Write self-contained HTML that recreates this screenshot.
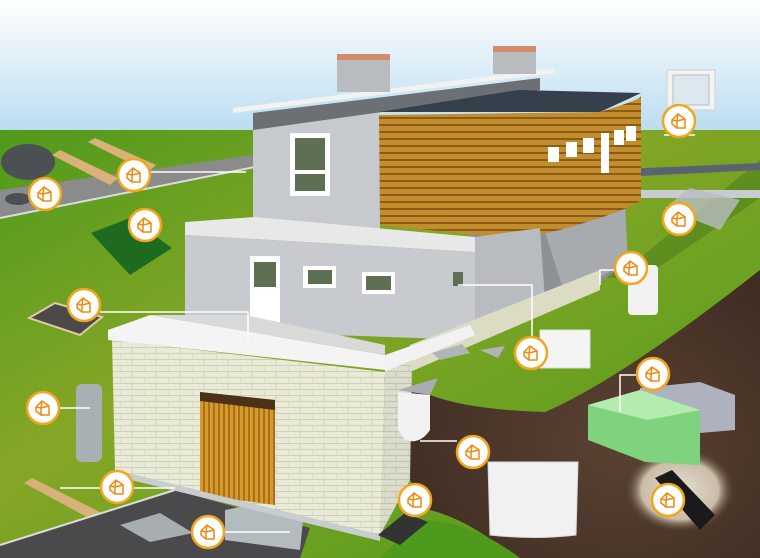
<!DOCTYPE html>
<html><head><meta charset="utf-8"><style>
html,body{margin:0;padding:0;width:760px;height:558px;overflow:hidden;background:#fff}
svg{display:block}
</style></head><body>
<svg width="760" height="558" viewBox="0 0 760 558" xmlns="http://www.w3.org/2000/svg">
<defs>
<linearGradient id="sky" x1="0" y1="0" x2="0" y2="1"><stop offset="0" stop-color="#ffffff"/><stop offset="1" stop-color="#b9dcf0"/></linearGradient>
<linearGradient id="grass" x1="0" y1="0" x2="1" y2="1"><stop offset="0" stop-color="#4f9a1c"/><stop offset="0.4" stop-color="#86a626"/><stop offset="1" stop-color="#4a9a1a"/></linearGradient>
<pattern id="woodl" width="8" height="7" patternUnits="userSpaceOnUse"><rect width="8" height="7" fill="#c38d2e"/><rect y="5" width="8" height="2" fill="#8a5c18"/></pattern>
<pattern id="door" width="5" height="8" patternUnits="userSpaceOnUse"><rect width="5" height="8" fill="#d59a2a"/><rect x="3" width="2" height="8" fill="#a8701a"/></pattern>
<pattern id="brick" width="24" height="12" patternUnits="userSpaceOnUse"><rect width="24" height="12" fill="#e9ead8"/><path d="M0 11.5H24M12 0V6M0 5.5H24M0 6V12" stroke="#cfd0b8" stroke-width="1"/></pattern>
<radialGradient id="soil" cx="0.6" cy="0.6" r="0.7"><stop offset="0" stop-color="#5a4232"/><stop offset="1" stop-color="#3e2c22"/></radialGradient>
<radialGradient id="grav" cx="0.5" cy="0.5" r="0.5"><stop offset="0" stop-color="#e8e0d4"/><stop offset="0.7" stop-color="#c9bca8"/><stop offset="1" stop-color="#5a4232" stop-opacity="0"/></radialGradient>
<g id="ic"><circle r="16" fill="#fff" stroke="#f3a51d" stroke-width="2.5"/><path d="M-7 -1 L-1 -7 L6 -2 L6 7 L-2 7 L-7 3 Z M-1 -7 L-2 0 L-2 7 M-7 -1 L-2 0 L6 -2" fill="none" stroke="#ee8a10" stroke-width="1.5" stroke-linejoin="round"/></g>
</defs>
<rect width="760" height="135" fill="url(#sky)"/>
<rect y="130" width="760" height="428" fill="url(#grass)"/>
<!-- top-left road -->
<polygon points="0,190 255,155 255,167 0,218" fill="#8b8b8b"/>
<polyline points="0,218 255,167" stroke="#ddd" stroke-width="2" fill="none"/>
<ellipse cx="28" cy="162" rx="27" ry="18" fill="#4b5054"/>
<ellipse cx="18" cy="199" rx="13" ry="6" fill="#4b5054"/>
<polygon points="52,155 60,150 118,178 110,185" fill="#d9b27a"/>
<polygon points="88,142 95,138 156,165 148,172" fill="#d9b27a"/>
<polygon points="91,233 130,218 172,248 130,275" fill="#1e6a1e"/>
<polygon points="29,318 55,303 102,317 80,335" fill="#4a4a4a" stroke="#e2c9a0" stroke-width="2"/>
<rect x="76" y="384" width="26" height="78" rx="6" fill="#a9b0b4"/>
<polygon points="24,483 32,478 102,513 96,522" fill="#d7b07a"/>
<!-- soil cross-section -->
<path d="M405 385 L430 395 Q470 410 545 412 Q620 380 760 270 L760 558 L515 558 Q470 520 430 510 L410 480 Z" fill="url(#soil)"/>
<path d="M420 520 Q470 520 520 558 L380 558 Z" fill="#4e9a1c"/>
<ellipse cx="680" cy="490" rx="55" ry="42" fill="url(#grav)"/>
<!-- driveway -->
<polygon points="0,545 175,490 310,528 300,558 0,558" fill="#4a4a4c"/>
<polyline points="0,545 175,490" stroke="#ddd" stroke-width="2" fill="none"/>
<polygon points="120,525 160,513 193,533 150,542" fill="#a8aeb0"/>
<polygon points="225,510 250,505 303,520 300,550 225,540" fill="#b4bbbf"/>
<polygon points="575,275 640,258 760,160 760,198 640,280" fill="#3d6f1a" opacity="0.4"/>
<!-- walkway -->
<polygon points="600,170 760,163 760,170 600,178" fill="#5a6470"/>
<polygon points="600,190 760,190 760,198 600,198" fill="#c8ccd0"/>
<polygon points="665,208 690,188 740,200 720,230" fill="#b9bdc0" opacity="0.8"/>
<rect x="667" y="70" width="48" height="40" fill="#f3f3f3" stroke="#d0d0d0"/>
<rect x="673" y="75" width="36" height="30" fill="#dbe8ef" stroke="#bbb"/>
<!-- upper gray block -->
<polygon points="253,113 380,100 380,230 253,225" fill="#c6c9cd"/>
<polygon points="253,113 540,78 540,90 253,130" fill="#6c6f74"/>
<polygon points="233,108 555,68 555,73 233,113" fill="#f2f2f2"/>
<rect x="337" y="56" width="53" height="36" fill="#b9bcbf"/><rect x="337" y="54" width="53" height="6" fill="#d48b6a"/>
<rect x="493" y="48" width="43" height="26" fill="#b9bcbf"/><rect x="493" y="46" width="43" height="6" fill="#d48b6a"/>
<rect x="290" y="133" width="40" height="63" fill="#fff"/><rect x="295" y="138" width="30" height="32" fill="#5e6f54"/><rect x="295" y="174" width="30" height="17" fill="#5e6f54"/>
<!-- under wood gray -->
<polygon points="470,232 560,232 625,205 628,262 575,300 470,330" fill="#8d9196"/>
<polygon points="545,232 625,205 628,262 565,295" fill="#a7abb0"/>
<!-- wood box -->
<polygon points="379,112 518,90 641,93 600,112" fill="#34404c"/>
<path d="M379 115 L600 112 Q640 100 641 96 L641 200 Q630 210 560 230 Q520 240 480 235 L380 225 Z" fill="url(#woodl)"/>
<g fill="#fff"><rect x="548" y="147" width="11" height="15"/><rect x="566" y="142" width="11" height="15"/><rect x="583" y="138" width="11" height="15"/><rect x="601" y="133" width="8" height="40"/><rect x="614" y="130" width="10" height="15"/><rect x="626" y="126" width="10" height="15"/></g>
<!-- middle floor -->
<polygon points="185,222 255,217 475,237 475,252 185,235" fill="#e8e8e8"/>
<polygon points="185,235 475,252 475,340 185,330" fill="#c7cacf"/>
<polygon points="475,237 540,228 545,300 475,340" fill="#b8bcc1"/>
<rect x="250" y="256" width="30" height="80" fill="#fff"/><rect x="254" y="262" width="22" height="25" fill="#5e6f54"/>
<g fill="#fff"><rect x="303" y="266" width="33" height="22"/><rect x="362" y="272" width="33" height="22"/></g>
<g fill="#5e6f54"><rect x="308" y="270" width="24" height="14"/><rect x="366" y="276" width="25" height="14"/><rect x="453" y="272" width="10" height="14"/></g>
<polygon points="410,345 600,270 600,290 410,372" fill="#dcdcc4"/>
<!-- terrace & stone block -->
<polygon points="108,330 150,315 385,355 385,370 108,340" fill="#f4f4f4"/>
<polygon points="150,315 245,315 385,345 385,355" fill="#d9d9d9"/>
<polygon points="385,355 470,325 475,335 385,372" fill="#f2f2f2"/>
<polygon points="112,340 385,372 380,535 115,470" fill="url(#brick)"/>
<polygon points="385,372 412,360 410,480 380,535" fill="url(#brick)"/>
<polygon points="385,372 412,360 410,480 380,535" fill="#000" opacity="0.06"/>
<polygon points="200,392 275,400 275,505 200,495" fill="url(#door)"/>
<polygon points="200,392 275,400 275,410 200,401" fill="#4a3118"/>
<polygon points="115,470 380,535 380,541 115,476" fill="#c9ccd0"/>
<!-- products -->
<polygon points="398,390 438,378 430,395" fill="#a9acb0"/>
<path d="M398 392 L430 395 L430 430 Q420 445 405 440 L398 430Z" fill="#f2f2f2"/>
<polygon points="432,353 462,344 470,353 440,360" fill="#b0b5b8"/>
<polygon points="480,350 505,346 498,358" fill="#b0b5b8"/>
<polygon points="378,535 405,513 428,522 400,545" fill="#333"/>
<path d="M488 462 L578 462 L576 535 Q535 540 490 535 Z" fill="#f1f1f1" stroke="#d9d9d9"/>
<rect x="540" y="330" width="50" height="38" fill="#f4f4f4" stroke="#ddd"/>
<rect x="628" y="265" width="30" height="50" rx="4" fill="#f2f2f2"/>
<polygon points="640,388 700,382 735,395 735,430 700,433 640,425" fill="#aeb2be"/>
<polygon points="588,405 640,390 700,410 700,465 645,462 588,440" fill="#7fd37f"/>
<polygon points="588,405 640,390 700,410 648,420" fill="#b4ecb0"/>
<polygon points="655,478 672,470 715,515 700,530" fill="#1a1a1a"/>
<!-- connector lines -->
<g stroke="#fff" stroke-width="1.5" fill="none">
<polyline points="150,172 246,172"/>
<polyline points="100,312 248,312 248,340"/>
<polyline points="59,408 90,408"/>
<polyline points="133,488 175,488"/><polyline points="60,488 100,488"/>
<polyline points="222,532 290,532"/>
<polyline points="414,516 414,505"/>
<polyline points="457,441 420,441"/>
<polyline points="532,337 532,285 458,285"/>
<polyline points="616,270 600,270 600,285"/>
<polyline points="695,135 664,135"/>
<polyline points="637,375 620,375 620,412"/>
</g>
<use href="#ic" x="45" y="194"/><use href="#ic" x="134" y="175"/><use href="#ic" x="145" y="225"/><use href="#ic" x="84" y="305"/>
<use href="#ic" x="43" y="408"/><use href="#ic" x="117" y="487"/><use href="#ic" x="208" y="532"/><use href="#ic" x="415" y="500"/>
<use href="#ic" x="473" y="452"/><use href="#ic" x="531" y="353"/><use href="#ic" x="631" y="268"/><use href="#ic" x="679" y="121"/>
<use href="#ic" x="679" y="219"/><use href="#ic" x="653" y="374"/><use href="#ic" x="668" y="500"/>
</svg>
</body></html>
